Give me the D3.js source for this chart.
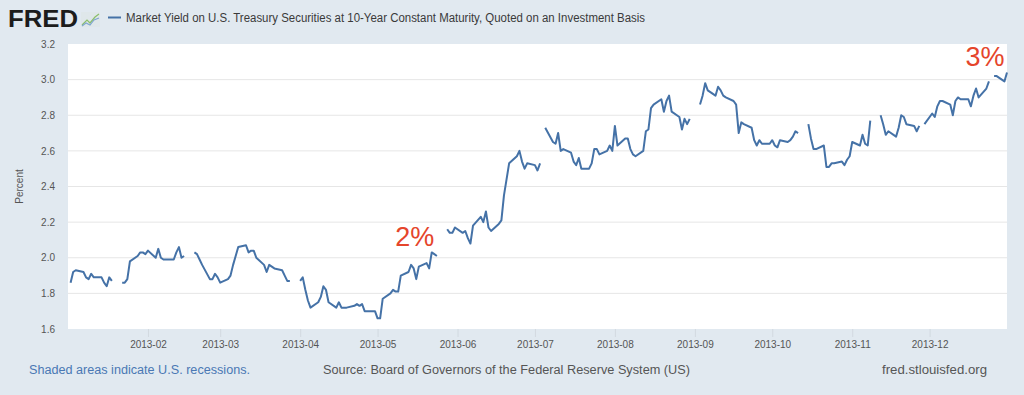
<!DOCTYPE html>
<html>
<head>
<meta charset="utf-8">
<script src="https://cdn.jsdelivr.net/npm/d3@7"></script>
<style>
  html, body { margin: 0; padding: 0; background: #e1e9f0; }
  #chart { width: 1024px; height: 395px; }
  text { font-family: "Liberation Sans", Arial, sans-serif; }
</style>
</head>
<body>
<div id="chart"></div>
<script>
// DGS10 daily yields for 2013, one value per weekday of each month (null = market closed)
var jan = [null, 1.86, 1.92, 1.93, 1.92, 1.89, 1.88, 1.91, 1.89, 1.89, 1.86, 1.84, 1.89, 1.87, null, 1.86, 1.86, 1.88, 1.98, 2.01, 2.03, 2.03, 2.02];
var feb = [2.04, 2.00, 2.05, 2.00, 1.99, 1.99, 1.99, 2.03, 2.06, 2.00, 2.01, null, 2.03, 2.02, 1.99, 1.96, 1.88, 1.88, 1.91, 1.89];
var mar = [1.86, 1.88, 1.90, 1.96, 2.01, 2.06, 2.07, 2.03, 2.04, 2.04, 2.00, 1.96, 1.92, 1.96, 1.95, 1.94, 1.93, 1.90, 1.87, 1.87, null];
var apr = [1.87, 1.89, 1.82, 1.76, 1.72, 1.75, 1.78, 1.84, 1.82, 1.75, 1.72, 1.75, 1.72, 1.72, 1.72, 1.73, 1.74, 1.73, 1.74, 1.70, 1.70, 1.70];
var may = [1.66, 1.66, 1.77, 1.80, 1.82, 1.81, 1.81, 1.90, 1.92, 1.96, 1.94, 1.88, 1.95, 1.97, 1.94, 2.03, 2.02, 2.01, null, 2.16, 2.14, 2.14, 2.17];
var jun = [2.14, 2.15, 2.11, 2.08, 2.18, 2.23, 2.20, 2.26, 2.17, 2.15, 2.19, 2.21, 2.35, 2.44, 2.53, 2.57, 2.60, 2.54, 2.50, 2.53];
var jul = [2.52, 2.49, 2.53, null, 2.73, 2.65, 2.64, 2.70, 2.60, 2.61, 2.59, 2.54, 2.52, 2.56, 2.50, 2.50, 2.53, 2.61, 2.61, 2.58, 2.60, 2.63, 2.60];
var aug = [2.74, 2.63, 2.67, 2.67, 2.61, 2.58, 2.57, 2.60, 2.71, 2.72, 2.84, 2.86, 2.89, 2.82, 2.88, 2.91, 2.82, 2.79, 2.72, 2.78, 2.75, 2.78];
var sep = [null, 2.86, 2.91, 2.98, 2.94, 2.91, 2.96, 2.94, 2.91, 2.90, 2.88, 2.86, 2.70, 2.76, 2.75, 2.73, 2.66, 2.63, 2.66, 2.64, 2.64];
var oct = [2.66, 2.63, 2.62, 2.66, 2.65, 2.66, 2.68, 2.71, 2.70, null, 2.75, 2.67, 2.61, 2.61, 2.63, 2.51, 2.51, 2.53, 2.53, 2.54, 2.52, 2.55, 2.57];
var nov = [2.65, 2.63, 2.69, 2.64, 2.63, 2.77, null, 2.80, 2.75, 2.69, 2.71, 2.68, 2.73, 2.80, 2.79, 2.75, 2.74, 2.71, 2.74, null, 2.75];
var dec = [2.81, 2.79, 2.85, 2.88, 2.88, 2.86, 2.80, 2.88, 2.90, 2.89, 2.89, 2.85, 2.91, 2.95, 2.90, 2.95, 2.99, null, 3.02, 3.02, 2.99, 3.04];

var months = [jan, feb, mar, apr, may, jun, jul, aug, sep, oct, nov, dec];
var yTicks = [1.6, 1.8, 2.0, 2.2, 2.4, 2.6, 2.8, 3.0, 3.2];
var xTicks = ["2013-02", "2013-03", "2013-04", "2013-05", "2013-06", "2013-07", "2013-08", "2013-09", "2013-10", "2013-11", "2013-12"];
var notes = [{label: "2%", date: "2013-05-17", value: 2.02}, {label: "3%", date: "2013-12-24", value: 3.03}];

var title = "Market Yield on U.S. Treasury Securities at 10-Year Constant Maturity, Quoted on an Investment Basis";
var footLeft = "Shaded areas indicate U.S. recessions.";
var footMid = "Source: Board of Governors of the Federal Reserve System (US)";
var footRight = "fred.stlouisfed.org";

class YieldChart{
	constructor(parent){
		var viz = this;
		viz.parent = parent;
		viz.width = 1024;
		viz.height = 395;
		viz.margin = {left: 68, right: 1007, top: 44, bottom: 329};
		viz.parse = d3.timeParse("%Y-%m-%d");

		viz.data = viz.buildData();
		viz.createCanvas(viz);
		viz.createScales(viz);
		viz.drawFrame();
		viz.drawAxes();
		viz.drawLine();
		viz.drawNotes();
		viz.drawText();
	}

	// walk each month's weekdays and attach the values in order
	buildData(){
		var out = [];
		months.forEach(function(vals, m){
			var days = d3.timeDay.range(new Date(2013, m, 1), new Date(2013, m + 1, 1))
				.filter(function(d){ return d.getDay() !== 0 && d.getDay() !== 6; });
			days.forEach(function(d, i){ out.push({date: d, value: vals[i]}); });
		});
		return out;
	}

	createCanvas(viz){
		viz.svg = d3.select(viz.parent)
			.append("svg")
			.attr("width", viz.width)
			.attr("height", viz.height)
			.attr("viewBox", "0 0 " + viz.width + " " + viz.height);
	}//createCanvas

	createScales(viz){
		viz.xScale = d3.scaleTime()
			.domain([new Date(2013, 0, 1), new Date(2013, 11, 31)])
			.range([viz.margin.left, viz.margin.right]);
		viz.yScale = d3.scaleLinear()
			.domain([1.6, 3.2])
			.range([viz.margin.bottom, viz.margin.top]);
	}//createScales

	drawFrame(){
		var viz = this;
		viz.svg.append("rect")
			.attr("width", viz.width).attr("height", viz.height)
			.attr("fill", "#e1e9f0");
		viz.svg.append("rect")
			.attr("x", viz.margin.left).attr("y", viz.margin.top)
			.attr("width", viz.margin.right - viz.margin.left)
			.attr("height", viz.margin.bottom - viz.margin.top)
			.attr("fill", "#ffffff");
	}

	drawAxes(){
		var viz = this;
		var fmt = d3.timeFormat("%Y-%m");
		var tickDates = xTicks.map(function(t){ return viz.parse(t + "-01"); });

		// horizontal grid
		viz.svg.append("g").selectAll("line")
			.data(yTicks.slice(1, -1)).enter()
			.append("line")
			.attr("x1", viz.margin.left).attr("x2", viz.margin.right)
			.attr("y1", function(d){ return viz.yScale(d); })
			.attr("y2", function(d){ return viz.yScale(d); })
			.attr("stroke", "#e6e6e6").attr("stroke-width", 1);

		var yAxis = d3.axisLeft(viz.yScale)
			.tickValues(yTicks)
			.tickFormat(d3.format(".1f"))
			.tickSize(0).tickPadding(13);
		var gy = viz.svg.append("g")
			.attr("transform", "translate(" + viz.margin.left + ",0)")
			.call(yAxis);
		gy.select(".domain").remove();
		gy.selectAll("text")
			.attr("fill", "#555").attr("font-size", 10)
			.attr("font-family", "Liberation Sans, Arial, sans-serif");

		var xAxis = d3.axisBottom(viz.xScale)
			.tickValues(tickDates)
			.tickFormat(fmt)
			.tickSize(8).tickPadding(4);
		var gx = viz.svg.append("g")
			.attr("transform", "translate(0," + viz.margin.bottom + ")")
			.call(xAxis);
		gx.select(".domain").remove();
		gx.selectAll("line").attr("stroke", "#d2d9e0");
		gx.selectAll("text")
			.attr("fill", "#555").attr("font-size", 10)
			.attr("font-family", "Liberation Sans, Arial, sans-serif");

		viz.svg.append("text")
			.attr("transform", "translate(23," + ((viz.margin.top + viz.margin.bottom) / 2) + ") rotate(-90)")
			.attr("text-anchor", "middle")
			.attr("font-size", 10).attr("fill", "#555")
			.text("Percent");
	}

	drawLine(){
		var viz = this;
		var line = d3.line()
			.defined(function(d){ return d.value !== null; })
			.x(function(d){ return viz.xScale(d.date); })
			.y(function(d){ return viz.yScale(d.value); });

		viz.svg.append("path")
			.datum(viz.data.filter(function(d){ return d.date >= new Date(2013, 0, 2); }))
			.attr("d", line)
			.attr("fill", "none") //no closing
			.attr("stroke", "#4572a7")
			.attr("stroke-width", 2)
			.attr("stroke-linejoin", "round");
	}

	drawNotes(){
		var viz = this;
		viz.svg.append("g").selectAll("text")
			.data(notes).enter()
			.append("text")
			.attr("x", function(d){ return viz.xScale(viz.parse(d.date)) - 4; })
			.attr("y", function(d){ return viz.yScale(d.value) - 8; })
			.attr("text-anchor", "middle")
			.attr("font-family", "Lato, 'Open Sans', sans-serif")
			.attr("font-weight", 300)
			.attr("font-size", 27)
			.attr("fill", "#e5452b")
			.text(function(d){ return d.label; });
	}

	drawText(){
		var viz = this;
		// FRED logo
		viz.svg.append("text")
			.attr("x", 8).attr("y", 27)
			.attr("font-size", 24).attr("font-weight", 900)
			.attr("font-family", "'DejaVu Sans', 'Liberation Sans', sans-serif")
			.attr("textLength", 70).attr("lengthAdjust", "spacingAndGlyphs")
			.attr("fill", "#1c1c1c")
			.text("FRED");
		var icon = viz.svg.append("g").attr("transform", "translate(81,12)");
		icon.append("rect").attr("width", 19).attr("height", 15).attr("fill", "#dfe7ea");
		icon.append("path").attr("d", "M1,13 L6,8 L9,11 L14,5 L18,2")
			.attr("fill", "none").attr("stroke", "#8bbf6a").attr("stroke-width", 1.2);
		icon.append("path").attr("d", "M1,14 L5,11 L9,13 L13,8 L18,6")
			.attr("fill", "none").attr("stroke", "#7fa6cf").attr("stroke-width", 1.2);

		// legend
		viz.svg.append("line")
			.attr("x1", 108).attr("x2", 121).attr("y1", 17.5).attr("y2", 17.5)
			.attr("stroke", "#4572a7").attr("stroke-width", 2);
		viz.svg.append("text")
			.attr("x", 126).attr("y", 22)
			.attr("font-size", 12).attr("fill", "#3a3a3a")
			.attr("textLength", 519).attr("lengthAdjust", "spacingAndGlyphs")
			.text(title);

		// footer
		viz.svg.append("text")
			.attr("x", 29).attr("y", 374)
			.attr("font-size", 12.5).attr("fill", "#4a78b4")
			.attr("textLength", 221).attr("lengthAdjust", "spacingAndGlyphs")
			.text(footLeft);
		viz.svg.append("text")
			.attr("x", 323).attr("y", 374)
			.attr("font-size", 12.5).attr("fill", "#555")
			.attr("textLength", 367).attr("lengthAdjust", "spacingAndGlyphs")
			.text(footMid);
		viz.svg.append("text")
			.attr("x", 882).attr("y", 374)
			.attr("font-size", 12.5).attr("fill", "#555")
			.attr("textLength", 105).attr("lengthAdjust", "spacingAndGlyphs")
			.text(footRight);
	}
}

new YieldChart("#chart");
</script>
</body>
</html>
